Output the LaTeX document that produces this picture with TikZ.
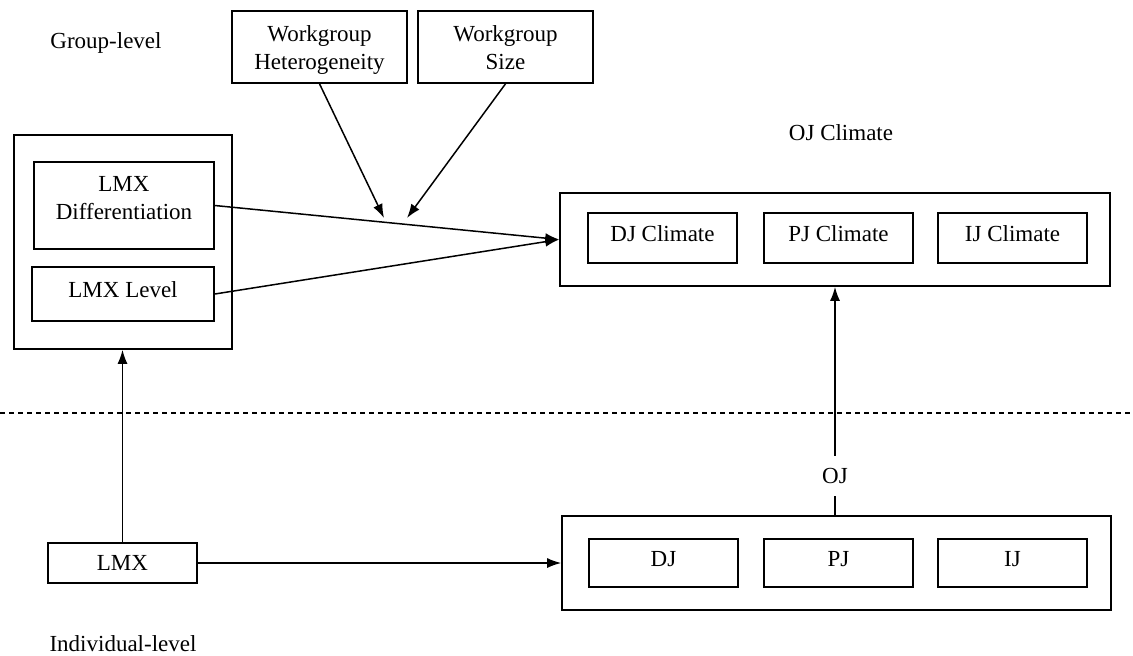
\documentclass[tikz,border=0pt]{standalone}
\usepackage{fontspec}
\setmainfont{Liberation Serif}
\usepackage{tikz}
\usetikzlibrary{arrows.meta}

\begin{document}
\begin{tikzpicture}[x=0.5pt,y=-0.5pt,
		  font=\fontsize{11.5}{14}\selectfont,
		  box/.style={draw,line width=0.8pt,align=center,inner sep=0pt},
		  inbox/.style={box,text height=8pt,text depth=5pt},
		  arr/.style={line width=0.75pt,-{Latex[length=7pt,width=5pt]}}]
		  \useasboundingbox (0,0) rectangle (1133,655);

		  \node (grp) at (106,43) {Group-level};
		  \node (ind) at (123,644) {Individual-level};
		  \node (ojc) at (841,133) {OJ Climate};

		  \node[box,minimum width=87.5pt,minimum height=36pt] (hetero) at (319.5,47) {};
		  \node[box,minimum width=87.5pt,minimum height=36pt] (size) at (505.5,47) {};
		  \node[align=center,yshift=-1.5pt] (heterotxt) at (hetero.center) {Workgroup\\Heterogeneity\vphantom{p}};
		  \node[align=center,yshift=-1.5pt] (sizetxt) at (size.center) {Workgroup\\Size\vphantom{y}};

		  \node[box,minimum width=109pt,minimum height=107pt] (grpbox) at (123,242) {};
		  \node[box,minimum width=90pt,minimum height=43.5pt] (lmxdiff) at (124,205.5) {};
		  \node[align=center,yshift=3.5pt] (lmxdifftxt) at (lmxdiff.center) {LMX\\Differentiation};
		  \node[inbox,minimum width=91pt,minimum height=27pt] (lmxlvl) at (123,294) {LMX Level};

		  \node[box,minimum width=275pt,minimum height=46.5pt] (ojbox) at (835,239.5) {};
		  \node[inbox,minimum width=74.5pt,minimum height=25pt] (djc) at (662.5,238) {DJ Climate};
		  \node[inbox,minimum width=74.5pt,minimum height=25pt] (pjc) at (838.5,238) {PJ Climate};
		  \node[inbox,minimum width=74.5pt,minimum height=25pt] (ijc) at (1012.5,238) {IJ Climate};

		  \node[box,minimum width=74.5pt,minimum height=20pt] (lmx) at (122.5,563) {LMX};
		  \node[box,minimum width=274.5pt,minimum height=47pt] (indbox) at (836.5,563) {};
		  \node[inbox,minimum width=74.5pt,minimum height=24pt] (dj) at (663.5,563) {DJ};
		  \node[inbox,minimum width=74.5pt,minimum height=24pt] (pj) at (838.5,563) {PJ};
		  \node[inbox,minimum width=74.5pt,minimum height=24pt] (ij) at (1012.5,563) {IJ};
		  \node[inner sep=0pt,minimum height=20pt] (oj) at (835,476) {OJ};

		  \coordinate (left) at (0,413);
		  \coordinate (right) at (1133,413);
		  \coordinate (modA) at (384,218);
		  \coordinate (modB) at (407,218);

		  \draw[line width=0.7pt,dash pattern=on 2.5pt off 2pt] (left) -- (right);

		  \draw[arr] (lmxdiff.east) -- (ojbox.west);
		  \draw[arr] (lmxlvl.east) -- (ojbox.west);
		  \draw[arr] (hetero.south) -- (modA);
		  \draw[arr] (size.south) -- (modB);
		  \draw[arr] (lmx.north) -- (lmx.north |- grpbox.south);
		  \draw[arr] (lmx.east) -- (indbox.west);
		  \draw[line width=0.75pt] (indbox.north -| oj) -- (oj.south);
		  \draw[arr] (oj.north) -- (oj.north |- ojbox.south);
		\end{tikzpicture}
\end{document}
